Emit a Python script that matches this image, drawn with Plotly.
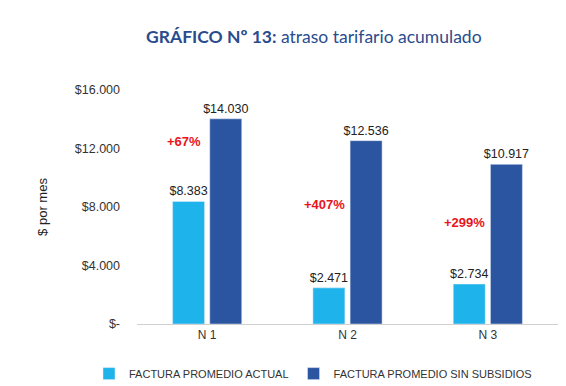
import plotly.graph_objects as go

categories = ["N 1", "N 2", "N 3"]
actual = [8383, 2471, 2734]
sin_subsidios = [14030, 12536, 10917]
pct_labels = ["+67%", "+407%", "+299%"]
pct_y = [12450, 8200, 6970]
tick_vals = [0, 4000, 8000, 12000, 16000]
tick_text = ["$-", "$4.000", "$8.000", "$12.000", "$16.000"]

def fmt(v):
    return "$" + f"{v:,}".replace(",", ".")

fig = go.Figure()
fig.add_bar(x=categories, y=actual, name="FACTURA PROMEDIO ACTUAL",
            marker_color="#1FB3EC", text=[fmt(v) for v in actual],
            textposition="outside", cliponaxis=False, constraintext="none",
            textfont=dict(size=12.5, color="#222222"))
fig.add_bar(x=categories, y=sin_subsidios, name="FACTURA PROMEDIO SIN SUBSIDIOS",
            marker_color="#2B55A0", text=[fmt(v) for v in sin_subsidios],
            textposition="outside", cliponaxis=False, constraintext="none",
            textfont=dict(size=12.5, color="#222222"))

for i, (lab, yv) in enumerate(zip(pct_labels, pct_y)):
    fig.add_annotation(x=i - 0.165, y=yv, text=f"<b>{lab}</b>", showarrow=False,
                       xref="x", yref="y",
                       font=dict(size=13, color="#E8141B", family="Liberation Sans"))

fig.update_layout(
    width=566, height=386,
    paper_bgcolor="white", plot_bgcolor="white",
    font=dict(family="Liberation Sans", color="#333333"),
    title=dict(text="<b>GRÁFICO Nº 13:</b> atraso tarifario acumulado",
               xref="paper", x=0.42, xanchor="center", y=0.925, yanchor="middle",
               font=dict(family="Lato", size=17.5, color="#2A4C8E")),
    barmode="group", bargap=0.47, bargroupgap=0.14,
    margin=dict(l=129, r=16, t=82, b=70, autoexpand=False),
    showlegend=True,
    legend=dict(orientation="h", x=-0.114, xanchor="left", y=-0.15, yanchor="top",
                font=dict(size=11, color="#333333"), itemwidth=30,
                traceorder="normal"),
    xaxis=dict(showline=True, linecolor="#D0D0D0", linewidth=1,
               tickfont=dict(size=12, color="#333333"), ticks="",
               showgrid=False, automargin=False),
    yaxis=dict(range=[0, 16000], tickvals=tick_vals, ticktext=tick_text,
               showgrid=False, zeroline=False, showline=False,
               tickfont=dict(size=12.5, color="#333333"),
               ticklabelstandoff=16, automargin=False,
               title=dict(text="$ por mes", font=dict(size=13, color="#222222"), standoff=24)),
)

fig.write_html("out.html")
